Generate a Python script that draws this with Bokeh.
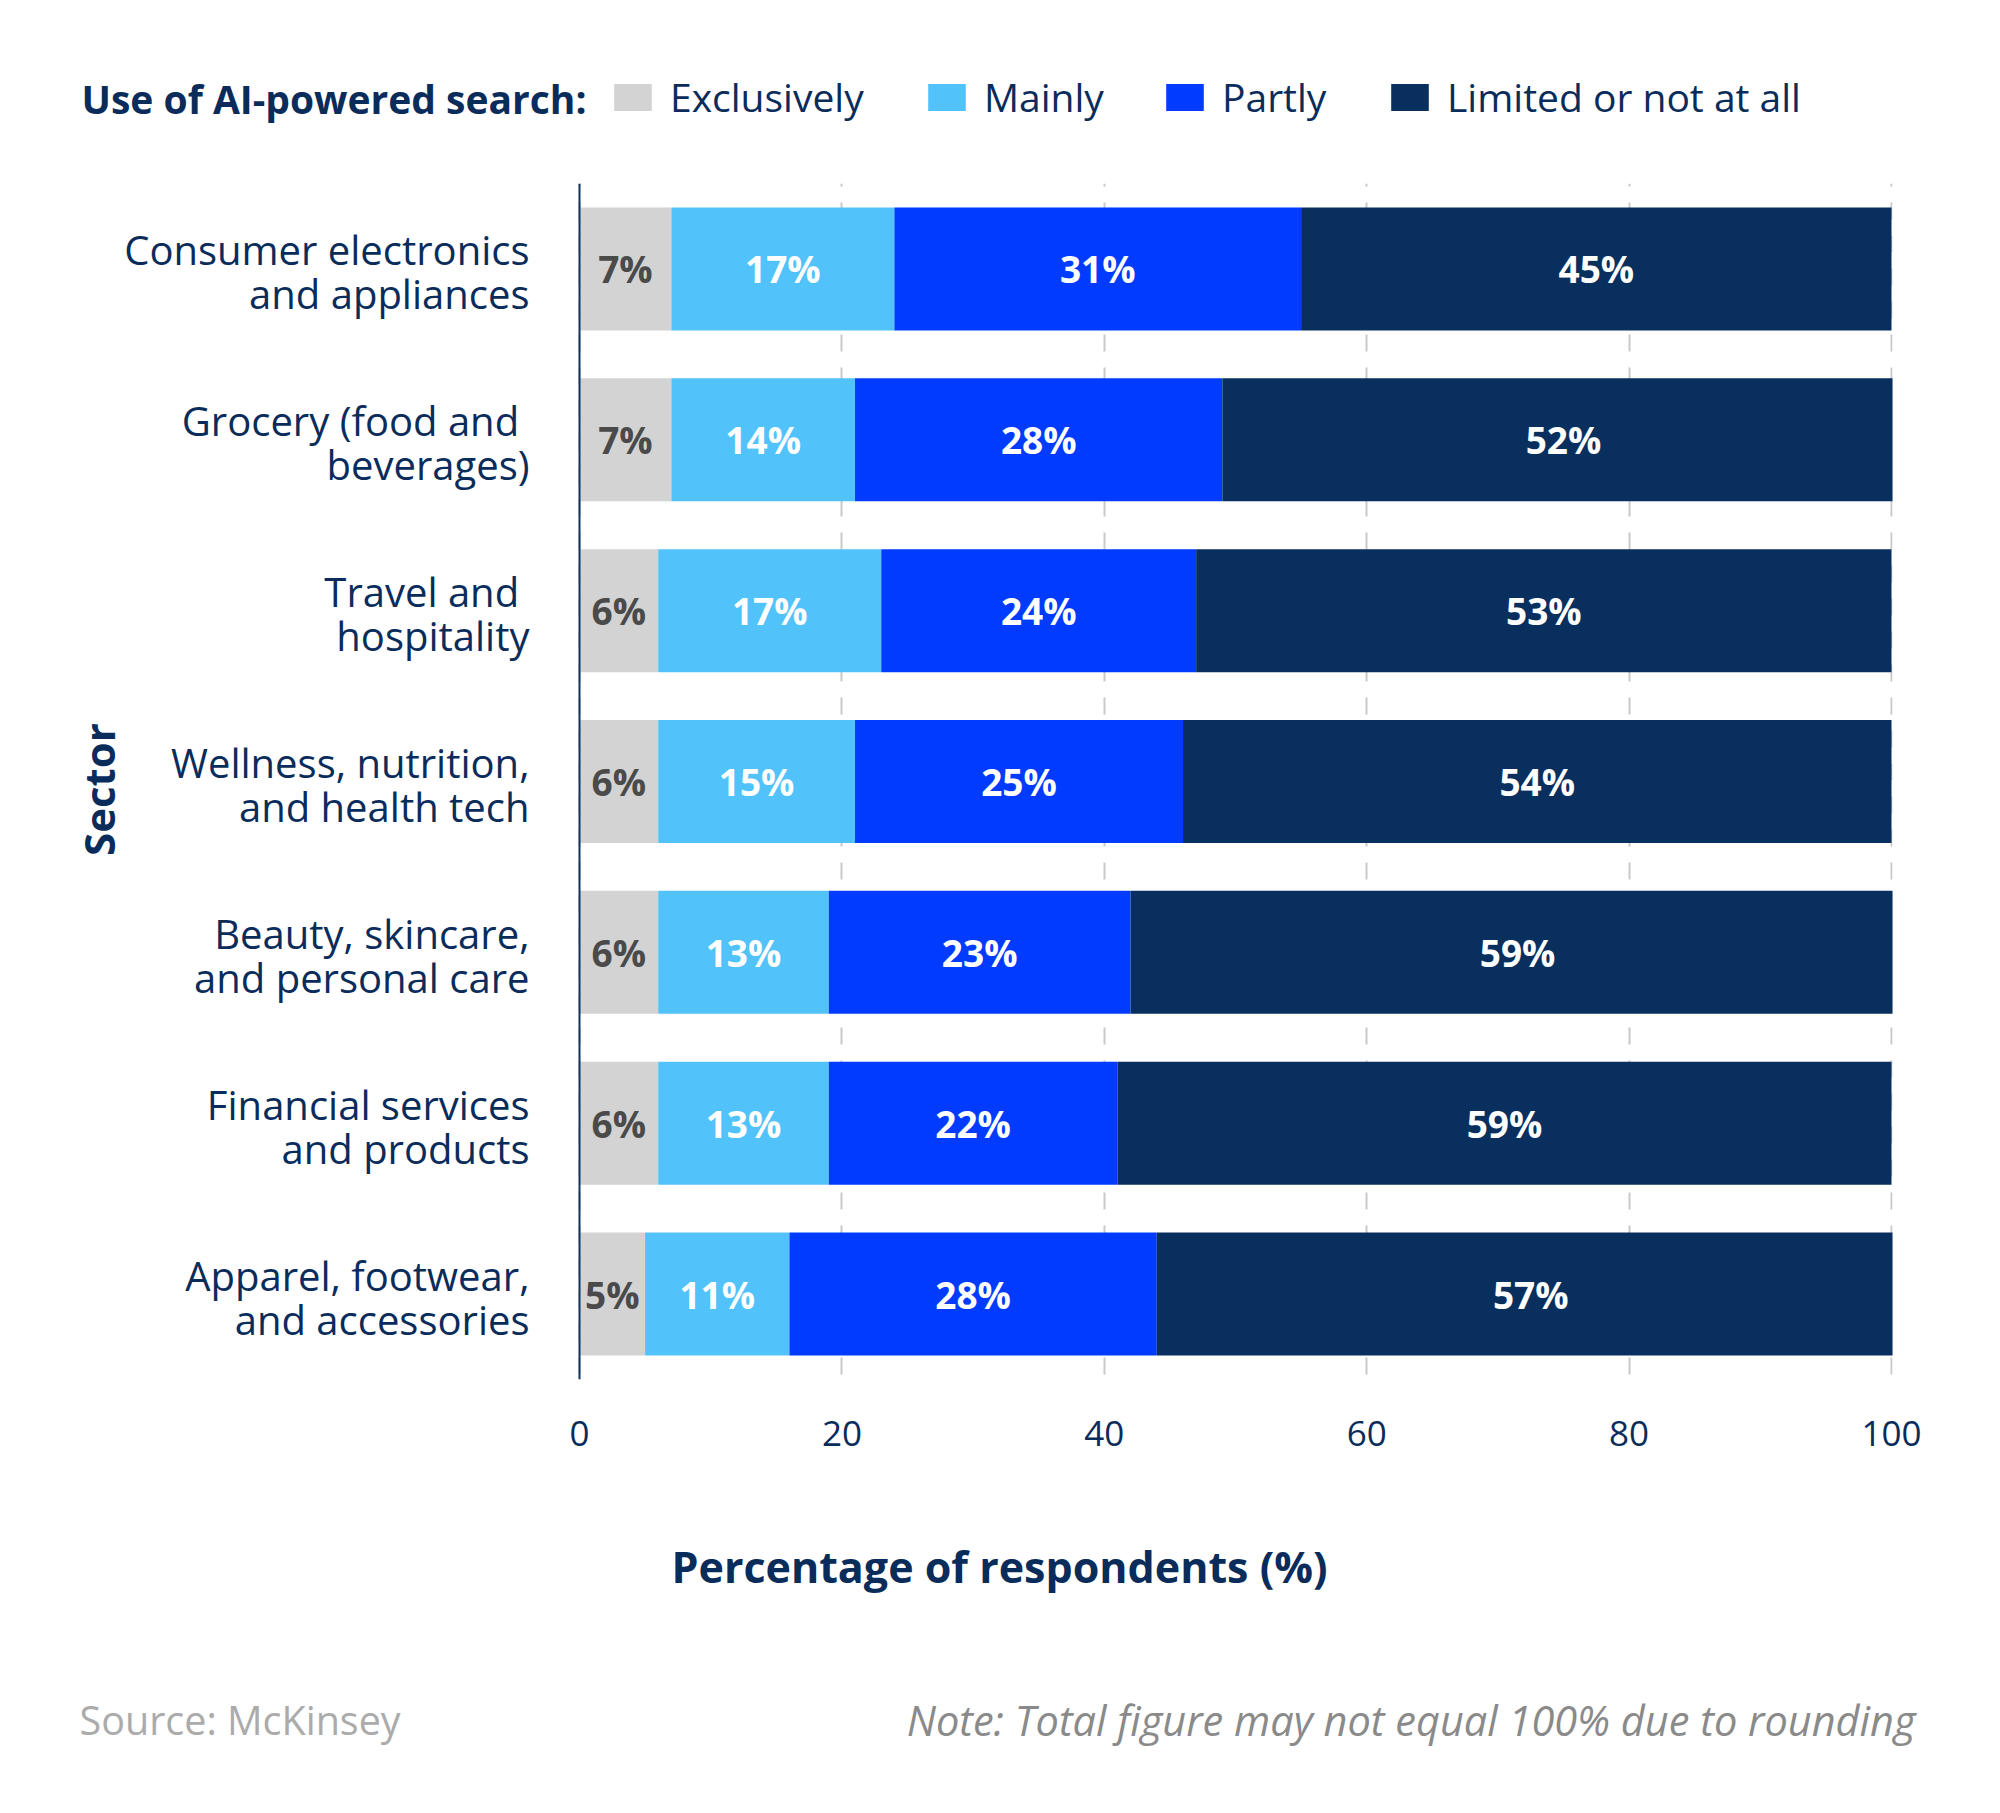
import math
from bokeh.plotting import figure
from bokeh.layouts import column
from bokeh.models import Range1d, FactorRange, FixedTicker, Label, Legend, LegendItem, ColumnDataSource, Span, BoxAnnotation
from bokeh.core.properties import value
from bokeh.embed import file_html
from bokeh.resources import INLINE

# ---------------- data ----------------
sectors = [
    "Consumer electronics and appliances",
    "Grocery (food and beverages)",
    "Travel and hospitality",
    "Wellness, nutrition, and health tech",
    "Beauty, skincare, and personal care",
    "Financial services and products",
    "Apparel, footwear, and accessories",
]
sector_labels = [
    "Consumer electronics\nand appliances",
    "Grocery (food and \nbeverages)",
    "Travel and \nhospitality",
    "Wellness, nutrition,\nand health tech",
    "Beauty, skincare,\nand personal care",
    "Financial services\nand products",
    "Apparel, footwear,\nand accessories",
]
series = ["Exclusively", "Mainly", "Partly", "Limited or not at all"]
exclusively = [7, 7, 6, 6, 6, 6, 5]
mainly = [17, 14, 17, 15, 13, 13, 11]
partly = [31, 28, 24, 25, 23, 22, 28]
limited = [45, 52, 53, 54, 59, 59, 57]
x_ticks = [0, 20, 40, 60, 80, 100]

# ---------------- style ----------------
FONT = "Open Sans"
NAVY = "#0a2c5b"
colors = ["#d3d3d3", "#52c2fb", "#003bff", "#082f5d"]
label_colors = ["#4a4a4a", "white", "white", "white"]
W = 1984


def bare(fig):
    fig.outline_line_color = None
    fig.background_fill_color = "white"
    fig.border_fill_color = "white"
    fig.grid.grid_line_color = None
    return fig


# ---------------- top: legend ----------------
top = bare(figure(width=W, height=183, x_range=Range1d(0, 1), y_range=Range1d(0, 1),
                  x_axis_type=None, y_axis_type=None, output_backend="svg", toolbar_location=None,
                  min_border=0))
top.add_layout(Label(x=81, y=85, x_units="screen", y_units="screen",
                     text="Use of AI-powered search:", text_font=FONT, text_font_style="bold",
                     text_font_size="39px", text_color=NAVY, text_baseline="middle", text_align="left"))
swatch_x = [609, 923, 1161, 1386]
for c, lab, sx in zip(colors, series, swatch_x):
    r = top.hbar(y=[-5], right=[1], height=0.5, color=c, line_width=0)
    lg = Legend(items=[LegendItem(label=lab, renderers=[r])], location=(sx, 60),
                orientation="horizontal", glyph_width=47, glyph_height=34,
                label_standoff=14, label_height=34, label_text_font=FONT,
                label_text_font_size="39px", label_text_color=NAVY,
                label_text_baseline="middle",
                padding=0, margin=0, border_line_color=None, background_fill_alpha=0)
    top.add_layout(lg, "center")

# ---------------- middle: chart ----------------
fields = ["excl", "main", "part", "lim"]
src = ColumnDataSource(dict(sector=sectors, excl=exclusively, main=mainly, part=partly, lim=limited))

px_per_unit = 13.12
x_left = -579 / px_per_unit
x_right = 100 + 93 / px_per_unit
p = bare(figure(width=W, height=1297,
                y_range=FactorRange(factors=sectors[::-1]),
                x_range=Range1d(x_left, x_right),
                output_backend="svg", toolbar_location=None,
                min_border_left=0, min_border_right=0,
                min_border_top=0, min_border_bottom=101))

p.xgrid.ticker = FixedTicker(ticks=x_ticks)
p.xgrid.grid_line_color = "#c9c9c9"
p.xgrid.grid_line_width = 2
p.xgrid.grid_line_dash = "17 16"
p.xgrid.grid_line_dash_offset = 28

renderers = p.hbar_stack(fields, y="sector", height=0.72, color=colors, source=src, line_width=0)

# the value axis ends at 100: hide anything past it
p.add_layout(BoxAnnotation(left=100.08, fill_color="white", fill_alpha=1, line_color=None, level="glyph"))

# y axis line at x = 0
p.add_layout(Span(location=0, dimension="height", line_color="#0b3565", line_width=2))

# category labels
p.text(x=[0] * len(sectors), y=sectors, text=sector_labels, x_offset=-50, y_offset=3,
       text_align="right", text_baseline="middle", text_color=NAVY,
       text_font=value(FONT), text_font_size="40px", text_line_height=0.8)

# value labels at segment centres
cum = [0] * len(sectors)
for vals, tc in zip([exclusively, mainly, partly, limited], label_colors):
    centers = [c + v / 2 for c, v in zip(cum, vals)]
    cum = [c + v for c, v in zip(cum, vals)]
    p.text(x=centers, y=sectors, text=[f"{v}%" for v in vals],
           text_align="center", text_baseline="middle", text_color=tc,
           text_font=value(FONT), text_font_style="bold", text_font_size="37px")

# x axis
p.xaxis.ticker = FixedTicker(ticks=x_ticks)
p.xaxis.axis_line_color = None
p.xaxis.major_tick_line_color = None
p.xaxis.minor_tick_line_color = None
p.xaxis.major_tick_out = 0
p.xaxis.major_tick_in = 0
p.xaxis.major_label_standoff = 41
p.xaxis.major_label_text_font = FONT
p.xaxis.major_label_text_font_size = "35px"
p.xaxis.major_label_text_color = NAVY
p.yaxis.visible = False

# y axis title
p.add_layout(Label(x=98, y=590, x_units="screen", y_units="screen", angle=math.pi / 2,
                   text="Sector", text_font=FONT, text_font_style="bold", text_font_size="42px",
                   text_color=NAVY, text_align="center", text_baseline="middle"))

# ---------------- bottom: x title and footer ----------------
bot = bare(figure(width=W, height=317, x_range=Range1d(0, 1), y_range=Range1d(0, 1),
                  x_axis_type=None, y_axis_type=None, output_backend="svg", toolbar_location=None,
                  min_border=0))
bot.add_layout(Label(x=999, y=231, x_units="screen", y_units="screen",
                     text="Percentage of respondents (%)", text_font=FONT, text_font_style="bold",
                     text_font_size="43px", text_color=NAVY, text_align="center", text_baseline="middle"))
bot.add_layout(Label(x=79, y=78, x_units="screen", y_units="screen",
                     text="Source: McKinsey", text_font=FONT, text_font_size="39.5px",
                     text_color="#ababab", text_align="left", text_baseline="middle"))
bot.add_layout(Label(x=1915, y=78, x_units="screen", y_units="screen",
                     text="Note: Total figure may not equal 100% due to rounding", text_font=FONT,
                     text_font_style="italic", text_font_size="41.5px",
                     text_color="#8a8a8a", text_align="right", text_baseline="middle"))

layout = column(top, p, bot, spacing=0)
open("out.html", "w").write(file_html(layout, INLINE))
